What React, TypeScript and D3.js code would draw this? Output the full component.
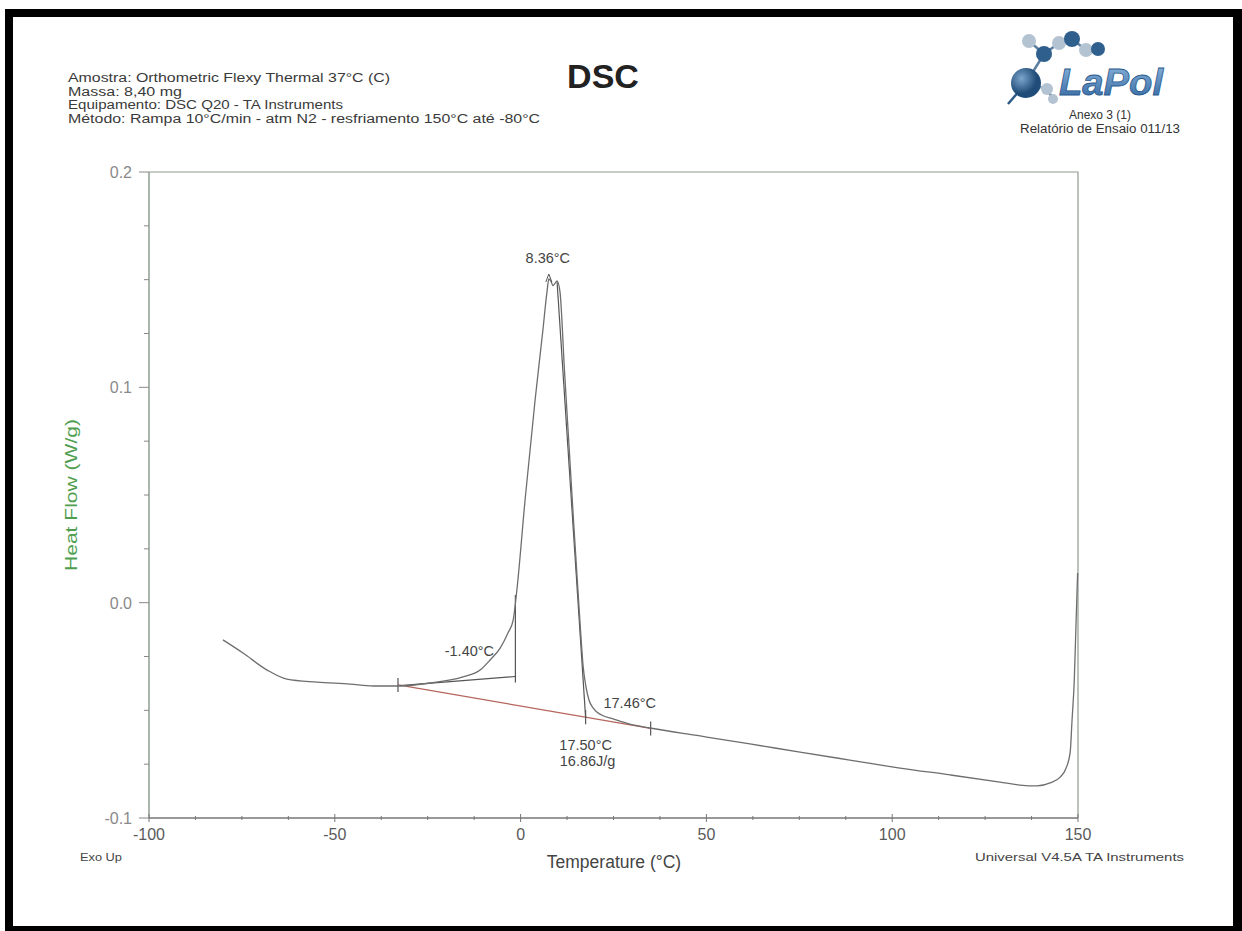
import { useEffect, useRef } from "react";
import * as d3 from "d3";

// DSC cooling run (150 -> -80 °C), heat flow
const temps = [
  -80.1, -74.7, -68.2, -62.9, -54.8, -45.9, -39.7, -32.5, -24.4, -15.5, -10.9,
  -8.2, -5.5, -3.4, -2.0, -1.0, 1.2, 3.9, 6.0, 7.1, 7.6, 8.2, 8.7, 9.3, 9.8,
  10.6, 11.8, 13.1, 14.4, 15.6, 16.3, 16.8, 17.5, 18.4, 19.5, 21.8, 24.9, 29.4,
  34.8, 48.3, 61.7, 75.2, 88.6, 102.1, 115.6, 129.0, 134.4, 139.0, 142.5, 145.2,
  146.8, 147.9, 148.4, 149.0, 149.5, 149.9,
];
const heatFlow = [
  -0.0173, -0.0234, -0.0313, -0.0355, -0.0369, -0.0378, -0.0387, -0.0387,
  -0.0373, -0.0345, -0.0313, -0.0266, -0.0211, -0.0141, -0.0081, 0.0059, 0.0477,
  0.0941, 0.1266, 0.1443, 0.1503, 0.1492, 0.1472, 0.1484, 0.1494, 0.1443, 0.108,
  0.0709, 0.0337, 0.0012, -0.0173, -0.029, -0.0382, -0.0452, -0.0489, -0.0522,
  -0.054, -0.0564, -0.0582, -0.0619, -0.0656, -0.0694, -0.0731, -0.0768, -0.08,
  -0.0833, -0.0847, -0.0851, -0.0837, -0.081, -0.0768, -0.0694, -0.0545,
  -0.0359, -0.0081, 0.0138,
];

// integration baseline (red) and its limit marks
const baselineT = [-33.0, 35.0];
const baselineHF = [-0.0382, -0.0584];
const baselineMarksT = [-33.0, 17.5, 35.0];

// analysis construction lines
const endsetT = [-32.5, -1.4];
const endsetHF = [-0.0385, -0.0343];
const endsetDropHF = [-0.0371, 0.0036];
const tangentT = [9.8, 17.5];
const tangentHF = [0.1494, -0.0536];

const xMajor = [-100, -50, 0, 50, 100, 150];
const yMajor = [-0.1, 0.0, 0.1, 0.2];
const yLabels = ["-0.1", "0.0", "0.1", "0.2"];

const headerLines = [
  "Amostra: Orthometric Flexy Thermal 37°C (C)",
  "Massa: 8,40 mg",
  "Equipamento: DSC Q20 - TA Instruments",
  "Método: Rampa 10°C/min - atm N2 - resfriamento 150°C até -80°C",
];
const headerWidths = [322, 114, 275, 472];

const FONT = "'Liberation Sans', Arial, sans-serif";

export default function App() {
  const svgRef = useRef<SVGSVGElement | null>(null);

  useEffect(() => {
    if (!svgRef.current) return;
    const svg = d3.select(svgRef.current);
    svg.selectAll("*").remove();

    const x = d3.scaleLinear().domain([-100, 150]).range([149, 1078]);
    const y = d3.scaleLinear().domain([-0.1, 0.2]).range([818, 172]);

    svg.append("rect").attr("width", 1242).attr("height", 931).attr("fill", "#fff");

    // scanned page frame
    const frame = svg.append("g").attr("fill", "#000");
    frame.append("rect").attr("x", 5).attr("y", 9).attr("width", 1237).attr("height", 8);
    frame.append("rect").attr("x", 5).attr("y", 9).attr("width", 8).attr("height", 922);
    frame.append("rect").attr("x", 1233).attr("y", 9).attr("width", 9).attr("height", 922);
    frame.append("rect").attr("x", 5).attr("y", 926).attr("width", 1237).attr("height", 5);

    // header
    headerLines.forEach((t, i) => {
      svg
        .append("text")
        .attr("x", 68)
        .attr("y", 82 + i * 13.5)
        .attr("font-family", FONT)
        .attr("font-size", 12)
        .attr("fill", "#3a3a3a")
        .attr("textLength", headerWidths[i])
        .attr("lengthAdjust", "spacingAndGlyphs")
        .text(t);
    });

    svg
      .append("text")
      .attr("x", 603)
      .attr("y", 88)
      .attr("text-anchor", "middle")
      .attr("font-family", FONT)
      .attr("font-weight", "bold")
      .attr("font-size", 34)
      .attr("fill", "#222")
      .text("DSC");

    // LaPol logo
    const defs = svg.append("defs");
    const rg = defs.append("radialGradient").attr("id", "ball").attr("cx", "35%").attr("cy", "35%");
    rg.append("stop").attr("offset", "0%").attr("stop-color", "#7ea6cc");
    rg.append("stop").attr("offset", "100%").attr("stop-color", "#1f4c78");
    const lg = defs.append("linearGradient").attr("id", "word").attr("x1", 0).attr("y1", 0).attr("x2", 0).attr("y2", 1);
    lg.append("stop").attr("offset", "0%").attr("stop-color", "#8cb6dd");
    lg.append("stop").attr("offset", "100%").attr("stop-color", "#2f64a0");

    const logo = svg.append("g").attr("transform", "translate(-2,5)");
    const atoms = [
      { cx: 1031, cy: 36, r: 7, dark: false },
      { cx: 1046, cy: 49, r: 8, dark: true },
      { cx: 1061, cy: 38, r: 7, dark: false },
      { cx: 1074, cy: 34, r: 8, dark: true },
      { cx: 1088, cy: 45, r: 7, dark: false },
      { cx: 1100, cy: 44, r: 7, dark: true },
      { cx: 1049, cy: 84, r: 6, dark: false },
      { cx: 1055, cy: 94, r: 5, dark: false },
    ];
    const bonds: [number, number][] = [[0, 1], [1, 2], [2, 3], [3, 4], [4, 5], [6, 7]];
    bonds.forEach(([a, b]) => {
      logo
        .append("line")
        .attr("x1", atoms[a].cx).attr("y1", atoms[a].cy)
        .attr("x2", atoms[b].cx).attr("y2", atoms[b].cy)
        .attr("stroke", "#5d7f9f").attr("stroke-width", 2.5);
    });
    logo.append("line").attr("x1", 1028).attr("y1", 78).attr("x2", 1046).attr("y2", 49).attr("stroke", "#5d7f9f").attr("stroke-width", 2.5);
    logo.append("line").attr("x1", 1028).attr("y1", 78).attr("x2", 1049).attr("y2", 84).attr("stroke", "#8fa6bb").attr("stroke-width", 2.5);
    logo.append("line").attr("x1", 1028).attr("y1", 78).attr("x2", 1010).attr("y2", 99).attr("stroke", "#2d5a86").attr("stroke-width", 2.5);
    atoms.forEach((a) => {
      logo
        .append("circle")
        .attr("cx", a.cx).attr("cy", a.cy).attr("r", a.r)
        .attr("fill", a.dark ? "#2f5f8c" : "#b3c3d2");
    });
    logo.append("circle").attr("cx", 1028).attr("cy", 78).attr("r", 15).attr("fill", "url(#ball)");
    logo
      .append("text")
      .attr("x", 1061)
      .attr("y", 90)
      .attr("font-family", FONT)
      .attr("font-weight", "bold")
      .attr("font-style", "italic")
      .attr("font-size", 36)
      .attr("fill", "url(#word)")
      .attr("stroke", "#2b5a8c")
      .attr("stroke-width", 0.8)
      .attr("textLength", 104)
      .attr("lengthAdjust", "spacingAndGlyphs")
      .text("LaPol");

    svg.append("text").attr("x", 1100).attr("y", 119).attr("text-anchor", "middle")
      .attr("font-family", FONT).attr("font-size", 12).attr("fill", "#333").text("Anexo 3 (1)");
    svg.append("text").attr("x", 1100).attr("y", 132.5).attr("text-anchor", "middle")
      .attr("font-family", FONT).attr("font-size", 12).attr("fill", "#333")
      .attr("textLength", 160).attr("lengthAdjust", "spacingAndGlyphs")
      .text("Relatório de Ensaio 011/13");

    // plot frame
    const [x0, x1] = x.range();
    const [yb, yt] = y.range();
    svg
      .append("path")
      .attr("d", `M${x0},${yt}H${x1}V${yb}`)
      .attr("fill", "none")
      .attr("stroke", "#8f9a8f")
      .attr("stroke-width", 1.2);
    svg.append("line").attr("x1", x0).attr("x2", x0).attr("y1", yt).attr("y2", yb).attr("stroke", "#7f8f7f").attr("stroke-width", 1.3);
    svg.append("line").attr("x1", x0).attr("x2", x1).attr("y1", yb).attr("y2", yb).attr("stroke", "#777").attr("stroke-width", 1.3);

    // y ticks
    d3.range(-0.1, 0.2001, 0.025).forEach((v) => {
      const major = yMajor.some((m) => Math.abs(m - v) < 1e-6);
      svg
        .append("line")
        .attr("x1", x0 - (major ? 10 : 5))
        .attr("x2", x0)
        .attr("y1", y(v))
        .attr("y2", y(v))
        .attr("stroke", "#888");
    });
    yMajor.forEach((v, i) => {
      svg
        .append("text")
        .attr("x", x0 - 17)
        .attr("y", y(v) + 6)
        .attr("text-anchor", "end")
        .attr("font-family", FONT)
        .attr("font-size", 16)
        .attr("fill", "#8a8a8a")
        .text(yLabels[i]);
    });

    // x ticks
    d3.range(-100, 150.01, 12.5).forEach((v) => {
      const major = xMajor.includes(v);
      svg
        .append("line")
        .attr("x1", x(v))
        .attr("x2", x(v))
        .attr("y1", yb - (major ? 4 : 2))
        .attr("y2", yb + (major ? 4 : 2))
        .attr("stroke", "#777");
    });
    xMajor.forEach((v) => {
      svg
        .append("text")
        .attr("x", x(v))
        .attr("y", yb + 22)
        .attr("text-anchor", "middle")
        .attr("font-family", FONT)
        .attr("font-size", 16)
        .attr("fill", "#5a5a5a")
        .text(String(v));
    });

    // axis titles and footer
    svg
      .append("text")
      .attr("transform", `translate(77,${(yt + yb) / 2}) rotate(-90)`)
      .attr("text-anchor", "middle")
      .attr("font-family", FONT)
      .attr("font-size", 16.5)
      .attr("fill", "#4f9e4f")
      .attr("textLength", 152)
      .attr("lengthAdjust", "spacingAndGlyphs")
      .text("Heat Flow (W/g)");
    svg
      .append("text")
      .attr("x", 614)
      .attr("y", 868)
      .attr("text-anchor", "middle")
      .attr("font-family", FONT)
      .attr("font-size", 17.5)
      .attr("fill", "#444")
      .text("Temperature (°C)");
    svg.append("text").attr("x", 80).attr("y", 861)
      .attr("font-family", FONT).attr("font-size", 11.5).attr("fill", "#444")
      .attr("textLength", 42).attr("lengthAdjust", "spacingAndGlyphs").text("Exo Up");
    svg.append("text").attr("x", 975).attr("y", 861)
      .attr("font-family", FONT).attr("font-size", 11.5).attr("fill", "#444")
      .attr("textLength", 209).attr("lengthAdjust", "spacingAndGlyphs")
      .text("Universal V4.5A TA Instruments");

    // integration baseline
    const pts = (ts: number[], hs: number[]) => ts.map((t, i) => [x(t), y(hs[i])] as [number, number]);
    const straight = d3.line();
    svg
      .append("path")
      .attr("d", straight(pts(baselineT, baselineHF)))
      .attr("fill", "none")
      .attr("stroke", "#b5655c")
      .attr("stroke-width", 1.3);
    const baseAt = d3.scaleLinear().domain(baselineT).range(baselineHF);
    baselineMarksT.forEach((t) => {
      svg
        .append("line")
        .attr("x1", x(t)).attr("x2", x(t))
        .attr("y1", y(baseAt(t)) - 7).attr("y2", y(baseAt(t)) + 7)
        .attr("stroke", "#555")
        .attr("stroke-width", 1.2);
    });

    // construction lines
    svg.append("path").attr("d", straight(pts(endsetT, endsetHF)))
      .attr("fill", "none").attr("stroke", "#555").attr("stroke-width", 1.2);
    svg.append("path").attr("d", straight(pts([endsetT[1], endsetT[1]], endsetDropHF)))
      .attr("fill", "none").attr("stroke", "#555").attr("stroke-width", 1.2);
    svg.append("path").attr("d", straight(pts(tangentT, tangentHF)))
      .attr("fill", "none").attr("stroke", "#555").attr("stroke-width", 1.2);

    // data curve
    const curve = d3
      .line<number>()
      .x((t) => x(t))
      .y((_, i) => y(heatFlow[i]))
      .curve(d3.curveMonotoneX);
    svg
      .append("path")
      .attr("d", curve(temps))
      .attr("fill", "none")
      .attr("stroke", "#6e6e6e")
      .attr("stroke-width", 1.3);

    // peak marker
    const pk = d3.maxIndex(heatFlow);
    const px = x(temps[pk]);
    const py = y(heatFlow[pk]);
    svg
      .append("path")
      .attr("d", `M${px - 3},${py + 3}L${px},${py - 5}L${px + 3},${py + 3}`)
      .attr("fill", "none")
      .attr("stroke", "#555")
      .attr("stroke-width", 1);

    const label = (tx: number, ty: number, s: string, anchor = "middle") =>
      svg
        .append("text")
        .attr("x", tx)
        .attr("y", ty)
        .attr("text-anchor", anchor)
        .attr("font-family", FONT)
        .attr("font-size", 14.5)
        .attr("fill", "#444")
        .text(s);

    label(px - 1, py - 16, "8.36°C");
    label(x(endsetT[1]) - 46, y(endsetHF[1]) - 21, "-1.40°C");
    label(x(17.46) + 18, y(baseAt(17.5)) - 9, "17.46°C", "start");
    label(x(17.5), y(baseAt(17.5)) + 33, "17.50°C");
    label(x(17.5) + 2, y(baseAt(17.5)) + 49, "16.86J/g");
  }, []);

  return (
    <svg
      ref={svgRef}
      width={1242}
      height={931}
      style={{ position: "absolute", left: 0, top: 0, display: "block" }}
    />
  );
}
